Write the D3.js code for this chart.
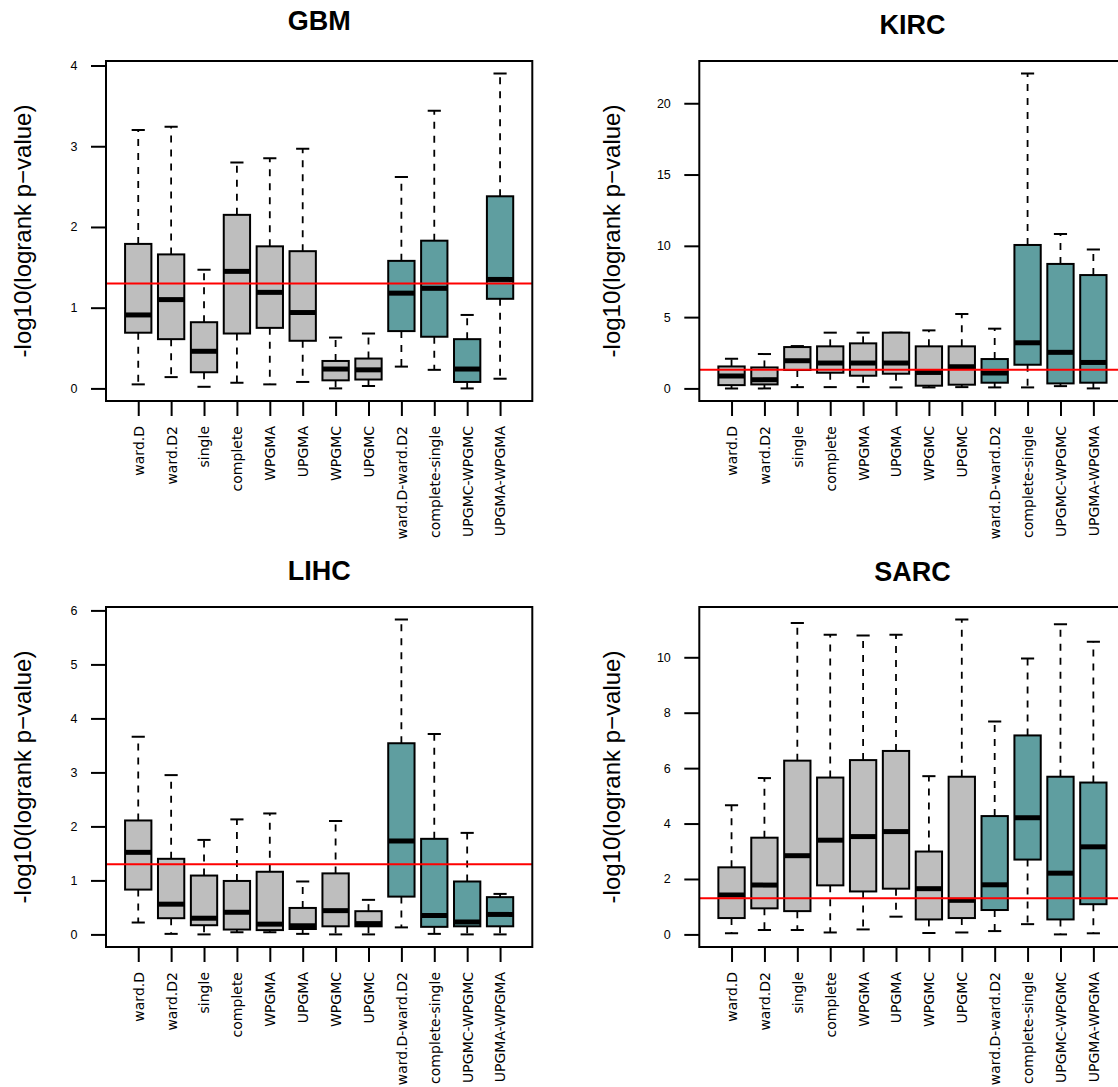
<!DOCTYPE html>
<html>
<head>
<meta charset="utf-8">
<script src="https://cdn.jsdelivr.net/npm/d3@7"></script>
<style>
  body { margin: 0; background: #fff; }
  svg { display: block; }
</style>
</head>
<body>
<div id="chart"></div>
<script>

// Clustering methods on the x axis, and which of them are consensus pairs
var methods = ["ward.D", "ward.D2", "single", "complete", "WPGMA", "UPGMA",
               "WPGMC", "UPGMC", "ward.D-ward.D2", "complete-single",
               "UPGMC-WPGMC", "UPGMA-WPGMA"];
var isPair = [false, false, false, false, false, false,
              false, false, true, true, true, true];

// Five-number summaries [lower whisker, Q1, median, Q3, upper whisker]
var gbm = [
  [0.05, 0.69, 0.91, 1.79, 3.20],
  [0.14, 0.61, 1.10, 1.66, 3.24],
  [0.02, 0.20, 0.46, 0.82, 1.47],
  [0.07, 0.68, 1.45, 2.15, 2.80],
  [0.05, 0.75, 1.19, 1.76, 2.85],
  [0.08, 0.59, 0.94, 1.70, 2.97],
  [0.00, 0.10, 0.24, 0.34, 0.63],
  [0.03, 0.11, 0.23, 0.37, 0.68],
  [0.27, 0.71, 1.18, 1.58, 2.62],
  [0.23, 0.64, 1.24, 1.83, 3.44],
  [0.00, 0.08, 0.24, 0.61, 0.91],
  [0.12, 1.11, 1.35, 2.38, 3.90]
];
var kirc = [
  [0.00, 0.23, 0.87, 1.54, 2.08],
  [0.00, 0.28, 0.61, 1.47, 2.41],
  [0.09, 1.29, 1.94, 2.90, 2.97],
  [0.09, 1.10, 1.78, 2.95, 3.91],
  [0.09, 0.89, 1.78, 3.16, 3.91],
  [0.07, 1.03, 1.78, 3.91, 3.91],
  [0.07, 0.19, 1.12, 2.95, 4.07],
  [0.09, 0.26, 1.52, 2.95, 5.22],
  [0.07, 0.40, 1.08, 2.06, 4.19],
  [0.07, 1.66, 3.20, 10.06, 22.08],
  [0.16, 0.35, 2.53, 8.73, 10.83],
  [0.00, 0.40, 1.82, 7.95, 9.75]
];
var lihc = [
  [0.22, 0.83, 1.52, 2.11, 3.66],
  [0.01, 0.30, 0.56, 1.40, 2.95],
  [0.00, 0.17, 0.30, 1.09, 1.75],
  [0.04, 0.09, 0.41, 0.99, 2.13],
  [0.04, 0.08, 0.19, 1.16, 2.24],
  [0.01, 0.10, 0.16, 0.49, 0.98],
  [0.00, 0.15, 0.44, 1.13, 2.10],
  [0.00, 0.15, 0.20, 0.43, 0.64],
  [0.13, 0.70, 1.73, 3.54, 5.83],
  [0.01, 0.14, 0.35, 1.77, 3.71],
  [0.00, 0.15, 0.23, 0.98, 1.88],
  [0.00, 0.15, 0.37, 0.69, 0.75]
];
var sarc = [
  [0.04, 0.59, 1.42, 2.42, 4.66],
  [0.16, 0.94, 1.78, 3.49, 5.64],
  [0.16, 0.84, 2.84, 6.27, 11.24],
  [0.07, 1.77, 3.40, 5.66, 10.81],
  [0.18, 1.55, 3.53, 6.29, 10.79],
  [0.64, 1.65, 3.71, 6.62, 10.81],
  [0.05, 0.54, 1.65, 2.99, 5.71],
  [0.07, 0.59, 1.23, 5.69, 11.36],
  [0.12, 0.88, 1.79, 4.27, 7.68],
  [0.37, 2.70, 4.21, 7.18, 9.96],
  [0.00, 0.54, 2.21, 5.69, 11.19],
  [0.04, 1.09, 3.16, 5.48, 10.56]
];

// Y tick values for each panel
var gbmTicks = [0, 1, 2, 3, 4];
var kircTicks = [0, 5, 10, 15, 20];
var lihcTicks = [0, 1, 2, 3, 4, 5, 6];
var sarcTicks = [0, 2, 4, 6, 8, 10];

// significance threshold, -log10(0.05)
var cutoff = -Math.log10(0.05);

var grey = "#bebebe";
var teal = "#5f9ea0";
var sans = "'Liberation Sans', Arial, Helvetica, sans-serif";

var svg = d3.select("#chart")
    .append("svg")
    .attr("width", 1118)
    .attr("height", 1087);

// plot regions (pixel layout of each panel)
var panels = [
  {title: "GBM",  stats: gbm,  ticks: gbmTicks,  x0: 106,   y0: 61,  titleY: 30,  labX: 31},
  {title: "KIRC", stats: kirc, ticks: kircTicks, x0: 699.3, y0: 61,  titleY: 34,  labX: 620},
  {title: "LIHC", stats: lihc, ticks: lihcTicks, x0: 106,   y0: 607, titleY: 580, labX: 31},
  {title: "SARC", stats: sarc, ticks: sarcTicks, x0: 699.3, y0: 607, titleY: 581, labX: 620}
];

var plotW = 426.3;
var plotH = 340;

panels.forEach(function(p, i) {
    drawPanel(p, i);
});

function drawPanel(p, idx) {

    var g = svg.append("g")
        .attr("transform", "translate(" + p.x0 + "," + p.y0 + ")");

    // R style limits: extend data range by 4% on each side
    var lo = d3.min(p.stats, function(d) { return d[0]; });
    var hi = d3.max(p.stats, function(d) { return d[4]; });
    var pad = (hi - lo) * 0.04;

    var x = d3.scaleLinear()
        .domain([0.5 - 0.48, methods.length + 0.5 + 0.48])
        .range([0, plotW]);

    var y = d3.scaleLinear()
        .domain([lo - pad, hi + pad])
        .range([plotH, 0]);

    var halfBox = x(1.4) - x(1);
    var halfCap = halfBox / 2;

    g.append("clipPath")
        .attr("id", "clip" + idx)
        .append("rect")
        .attr("width", plotW)
        .attr("height", plotH);

    var plot = g.append("g").attr("clip-path", "url(#clip" + idx + ")");

    var boxes = plot.selectAll(".box")
        .data(p.stats)
        .enter()
        .append("g")
        .attr("class", "box")
        .attr("transform", function(d, j) { return "translate(" + x(j + 1) + ",0)"; });

    // whiskers
    boxes.append("line")
        .attr("y1", function(d) { return y(d[3]); })
        .attr("y2", function(d) { return y(d[4]); })
        .attr("stroke", "#000").attr("stroke-width", 1.8)
        .attr("stroke-dasharray", "7,7");
    boxes.append("line")
        .attr("y1", function(d) { return y(d[1]); })
        .attr("y2", function(d) { return y(d[0]); })
        .attr("stroke", "#000").attr("stroke-width", 1.8)
        .attr("stroke-dasharray", "7,7");

    // staples
    [0, 4].forEach(function(k) {
        boxes.append("line")
            .attr("x1", -halfCap).attr("x2", halfCap)
            .attr("y1", function(d) { return y(d[k]); })
            .attr("y2", function(d) { return y(d[k]); })
            .attr("stroke", "#000").attr("stroke-width", 2);
    });

    // boxes
    boxes.append("rect")
        .attr("x", -halfBox)
        .attr("width", halfBox * 2)
        .attr("y", function(d) { return y(d[3]); })
        .attr("height", function(d) { return y(d[1]) - y(d[3]); })
        .attr("fill", function(d, j) { return isPair[j] ? teal : grey; })
        .attr("stroke", "#000")
        .attr("stroke-width", 2);

    // medians
    boxes.append("line")
        .attr("x1", -halfBox).attr("x2", halfBox)
        .attr("y1", function(d) { return y(d[2]); })
        .attr("y2", function(d) { return y(d[2]); })
        .attr("stroke", "#000")
        .attr("stroke-width", 5);

    // threshold line
    plot.append("line")
        .attr("x1", 0).attr("x2", plotW)
        .attr("y1", y(cutoff)).attr("y2", y(cutoff))
        .attr("stroke", "#ff0000")
        .attr("stroke-width", 2);

    // frame
    g.append("rect")
        .attr("width", plotW)
        .attr("height", plotH)
        .attr("fill", "none")
        .attr("stroke", "#000")
        .attr("stroke-width", 2);

    // y axis
    var yAxis = g.append("g")
        .call(d3.axisLeft(y)
            .tickValues(p.ticks)
            .tickFormat(d3.format("d"))
            .tickSize(15)
            .tickPadding(13.5)
            .tickSizeOuter(0));
    yAxis.select(".domain").remove();
    yAxis.selectAll("line").attr("stroke-width", 2);
    yAxis.selectAll("text")
        .attr("font-family", sans)
        .attr("font-size", 12.5)
        .attr("fill", "#000");

    // x axis
    var xAxis = g.append("g")
        .attr("transform", "translate(0," + plotH + ")")
        .call(d3.axisBottom(x)
            .tickValues(d3.range(1, methods.length + 1))
            .tickFormat(function(v) { return methods[v - 1]; })
            .tickSize(15)
            .tickSizeOuter(0));
    xAxis.select(".domain").remove();
    xAxis.selectAll("line").attr("stroke-width", 2);
    xAxis.selectAll("text")
        .attr("font-family", "'DejaVu Sans', sans-serif")
        .attr("font-size", 14)
        .attr("fill", "#000")
        .attr("text-anchor", "end")
        .attr("x", -25)
        .attr("y", 0)
        .attr("dy", "0.35em")
        .attr("transform", "rotate(-90)");

    // title
    svg.append("text")
        .attr("x", p.x0 + plotW / 2)
        .attr("y", p.titleY)
        .attr("text-anchor", "middle")
        .attr("font-family", sans)
        .attr("font-weight", "bold")
        .attr("font-size", 27)
        .text(p.title);

    // y axis title
    svg.append("text")
        .attr("transform", "translate(" + p.labX + "," + (p.y0 + plotH / 2) + ") rotate(-90)")
        .attr("text-anchor", "middle")
        .attr("font-family", sans)
        .attr("font-size", 24)
        .text("-log10(logrank p\u2212value)");
}

</script>
</body>
</html>
